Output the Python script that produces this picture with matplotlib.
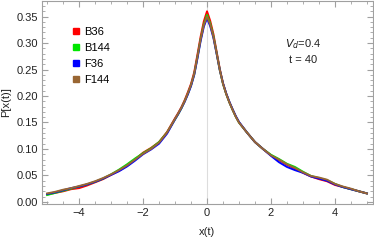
import numpy as np
import matplotlib
matplotlib.use('Agg')
import matplotlib.pyplot as plt
from matplotlib.lines import Line2D
from matplotlib.ticker import MultipleLocator

plt.rcParams['font.family'] = ['Liberation Sans', 'DejaVu Sans']

# x positions of the read-off points
x = [-5.0, -4.75, -4.5, -4.25, -4.0, -3.75, -3.5, -3.25, -3.0, -2.75, -2.5, -2.25,
     -2.0, -1.75, -1.5, -1.25, -1.0, -0.9, -0.8, -0.7, -0.6, -0.5, -0.4, -0.3,
     -0.2, -0.1, 0.0, 0.1, 0.2, 0.3, 0.4, 0.5, 0.6, 0.7, 0.8, 0.9, 1.0, 1.25,
     1.5, 1.75, 2.0, 2.25, 2.5, 2.75, 3.0, 3.25, 3.5, 3.75, 4.0, 4.25, 4.5,
     4.75, 5.0]

b36 = [0.014, 0.017, 0.020, 0.024, 0.026, 0.031, 0.037, 0.043, 0.051, 0.059, 0.068, 0.080,
       0.093, 0.102, 0.113, 0.132, 0.158, 0.168, 0.179, 0.192, 0.207, 0.223, 0.245, 0.278,
       0.312, 0.341, 0.360, 0.342, 0.317, 0.284, 0.251, 0.224, 0.204, 0.188, 0.174, 0.161,
       0.150, 0.131, 0.113, 0.100, 0.088, 0.079, 0.070, 0.063, 0.055, 0.048, 0.043, 0.039,
       0.032, 0.028, 0.024, 0.020, 0.016]
b144 = [0.013, 0.017, 0.021, 0.025, 0.029, 0.033, 0.038, 0.044, 0.052, 0.061, 0.071, 0.082,
        0.092, 0.101, 0.113, 0.131, 0.156, 0.166, 0.177, 0.190, 0.204, 0.220, 0.241, 0.273,
        0.307, 0.335, 0.353, 0.337, 0.313, 0.281, 0.249, 0.223, 0.204, 0.188, 0.174, 0.161,
        0.150, 0.131, 0.113, 0.100, 0.089, 0.081, 0.072, 0.066, 0.057, 0.049, 0.045, 0.041,
        0.034, 0.028, 0.024, 0.020, 0.016]
f36 = [0.015, 0.018, 0.022, 0.026, 0.029, 0.033, 0.038, 0.044, 0.051, 0.058, 0.067, 0.078,
       0.090, 0.099, 0.110, 0.129, 0.156, 0.166, 0.177, 0.189, 0.203, 0.219, 0.240, 0.271,
       0.304, 0.331, 0.347, 0.332, 0.310, 0.280, 0.249, 0.224, 0.205, 0.189, 0.175, 0.162,
       0.151, 0.131, 0.113, 0.100, 0.087, 0.075, 0.066, 0.060, 0.055, 0.048, 0.044, 0.040,
       0.033, 0.028, 0.024, 0.020, 0.016]
f144 = [0.016, 0.019, 0.023, 0.026, 0.030, 0.034, 0.039, 0.045, 0.052, 0.060, 0.069, 0.080,
        0.091, 0.100, 0.112, 0.131, 0.157, 0.167, 0.178, 0.190, 0.205, 0.221, 0.242, 0.274,
        0.307, 0.334, 0.350, 0.335, 0.312, 0.281, 0.249, 0.223, 0.204, 0.188, 0.174, 0.161,
        0.150, 0.131, 0.113, 0.100, 0.088, 0.080, 0.071, 0.064, 0.056, 0.049, 0.046, 0.042,
        0.034, 0.029, 0.025, 0.020, 0.016]

labels = ['B36', 'B144', 'F36', 'F144']
colors = ['#ff0000', '#00e600', '#0000ff', '#996633']
series = [b36, b144, f36, f144]

fig = plt.figure(figsize=(3.74, 2.42), dpi=100)
ax = fig.add_axes([0.1123, 0.157, 0.885, 0.84])

ax.axvline(0, color='#dddddd', lw=0.8, zorder=0)

for y, c in zip(series, colors):
    ax.plot(x, y, color=c, lw=1.4, solid_joinstyle='round')

ax.set_xlim(-5.16, 5.19)
ax.set_ylim(-0.004, 0.38)
ax.xaxis.set_major_locator(MultipleLocator(2))
ax.xaxis.set_minor_locator(MultipleLocator(0.5))
ax.yaxis.set_major_locator(MultipleLocator(0.05))
ax.yaxis.set_minor_locator(MultipleLocator(0.01))
ax.yaxis.set_major_formatter(matplotlib.ticker.FormatStrFormatter('%.2f'))

for s in ax.spines.values():
    s.set_color('#a0a0a0')
    s.set_linewidth(0.8)
ax.tick_params(which='both', direction='in', top=True, right=True, color='#a0a0a0',
               labelsize=8, pad=3, labelcolor='#222222')
ax.tick_params(which='major', length=4, width=0.8)
ax.tick_params(which='minor', length=2, width=0.6)

ax.set_xlabel('x(t)', fontsize=8, labelpad=6, color='#222222')
ax.set_ylabel('P[x(t)]', fontsize=8, labelpad=4, color='#222222')

handles = [Line2D([], [], ls='none', marker='s', ms=4.5, color=c) for c in colors]
ax.legend(handles, labels, loc='upper left', bbox_to_anchor=(0.07, 0.895), frameon=False,
          fontsize=8, handletextpad=0.1, labelspacing=0.55, handlelength=1.2,
          borderaxespad=0)

ax.text(0.79, 0.788, r'$V_d$=0.4', transform=ax.transAxes, fontsize=8, ha='center',
        va='center', color='#222222')
ax.text(0.79, 0.709, 't = 40', transform=ax.transAxes, fontsize=8, ha='center',
        va='center', color='#222222')

fig.savefig('out.png', dpi=100)
